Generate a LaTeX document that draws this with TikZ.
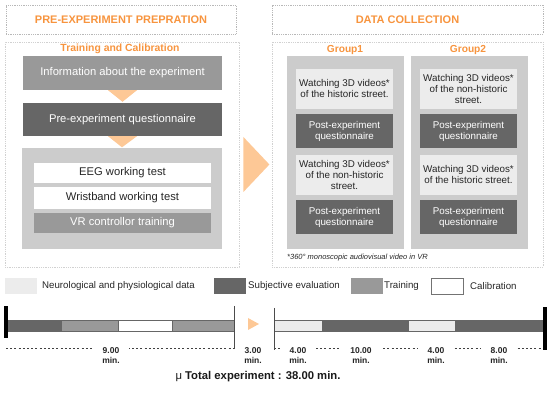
\documentclass[tikz,border=0pt]{standalone}
\usepackage{fontspec}
\setmainfont{Liberation Sans}
\usetikzlibrary{calc, positioning}
\definecolor{eorange}{RGB}{247,148,62}
\definecolor{epale}{RGB}{253,200,150}
\definecolor{edark}{RGB}{102,102,102}
\definecolor{emid}{RGB}{153,153,153}
\definecolor{elight}{RGB}{204,204,204}
\definecolor{epaper}{RGB}{236,236,236}

\tikzset{
  panel/.style={draw=black!28, densely dotted, line width=0.8pt, inner sep=0pt},
  heading/.style={text=eorange, font=\fontsize{11}{13}\selectfont\bfseries, inner sep=0pt},
  box/.style={inner sep=0pt, align=center, font=\fontsize{11.2}{13}\selectfont},
  darkbox/.style={box, fill=edark, text=white},
  midbox/.style={box, fill=emid, text=white},
  whitebox/.style={box, fill=white, text=black!85},
  groupbox/.style={box, font=\fontsize{9.8}{11}\selectfont, minimum width=97pt},
  swatch/.style={minimum width=32pt, minimum height=16pt, inner sep=0pt},
  legtext/.style={anchor=west, inner sep=0pt, text=black!85, font=\fontsize{9.7}{11}\selectfont},
  minlabel/.style={fill=white, inner xsep=9pt, inner ysep=1pt, align=center, font=\fontsize{8.5}{10}\selectfont\bfseries, text=black!85}
}

\begin{document}
\begin{tikzpicture}[x=1pt,y=-1pt]
\useasboundingbox (0,0) rectangle (550,395);

%Headers and panels:
\node[panel, minimum width=230pt, minimum height=29pt] (prephead) at (121,19.5) {};
\node[heading] at (prephead) {PRE-EXPERIMENT PREPRATION};
\node[panel, minimum width=271pt, minimum height=29pt] (datahead) at (407.5,19.5) {};
\node[heading] at (datahead) {DATA COLLECTION};
\node[panel, draw=black!18, minimum width=234pt, minimum height=225pt] (prep) at (122,154.5) {};
\node[panel, draw=black!18, minimum width=271pt, minimum height=225pt] (data) at (407.5,154.5) {};

%Pre-experiment side:
\node[heading, font=\fontsize{10.4}{12}\selectfont\bfseries] (train) at (120,48.5) {Training and Calibration};
\node[midbox, minimum width=199pt, minimum height=34pt] (info) at (122.5,73) {Information about the experiment};
\node[darkbox, minimum width=199pt, minimum height=33pt] (ques) at (122.5,119.5) {Pre-experiment questionnaire};
\node[box, fill=elight, minimum width=200pt, minimum height=101pt] (calib) at (122,198.5) {};
\node[whitebox, minimum width=177pt, minimum height=20pt] (eeg) at (122.5,173) {EEG working test};
\node[whitebox, minimum width=177pt, minimum height=22pt] (wrist) at (122.5,198) {Wristband working test};
\node[midbox, minimum width=177pt, minimum height=20pt] (vr) at (122.5,223) {VR controllor training};

\fill[epale] ($(info.south)+(-14.5,0)$) -- ($(info.south)+(14.5,0)$) -- ($(ques.north)+(0,-1)$) -- cycle;
\fill[epale] ($(ques.south)+(-14.5,0)$) -- ($(ques.south)+(14.5,0)$) -- ($(calib.north)+(0,-0.5)$) -- cycle;
\fill[epale] ($(prep.east)+(4,-17.5)$) -- ($(prep.east)+(4,37.5)$) -- ($(prep.east)+(30,10)$) -- cycle;

%Data collection side:
\node[heading, font=\fontsize{10.2}{12}\selectfont\bfseries] (g1) at (345,50) {Group1};
\node[heading, font=\fontsize{10.2}{12}\selectfont\bfseries] (g2) at (468,50) {Group2};
\node[box, fill=elight, minimum width=117pt, minimum height=193pt] (col1) at (345.5,152.5) {};
\node[box, fill=elight, minimum width=117pt, minimum height=193pt] (col2) at (469.5,152.5) {};

\node[groupbox, fill=epaper, text=black!85, minimum height=40pt] (w11) at (344.5,89) {Watching 3D videos*\\of the historic street.};
\node[groupbox, fill=edark, text=white, minimum height=34pt] (p11) at (344.5,131) {Post-experiment\\questionnaire};
\node[groupbox, fill=epaper, text=black!85, minimum height=40pt] (w12) at (344.5,175) {Watching 3D videos*\\of the non-historic\\street.};
\node[groupbox, fill=edark, text=white, minimum height=34pt] (p12) at (344.5,217) {Post-experiment\\questionnaire};

\node[groupbox, fill=epaper, text=black!85, minimum height=40pt] (w21) at (468.5,89) {Watching 3D videos*\\of the non-historic\\street.};
\node[groupbox, fill=edark, text=white, minimum height=34pt] (p21) at (468.5,131) {Post-experiment\\questionnaire};
\node[groupbox, fill=epaper, text=black!85, minimum height=40pt] (w22) at (468.5,175) {Watching 3D videos*\\of the historic street.};
\node[groupbox, fill=edark, text=white, minimum height=34pt] (p22) at (468.5,217) {Post-experiment\\questionnaire};

\node[anchor=west, inner sep=0pt, text=black!85, font=\fontsize{7.5}{9}\selectfont\itshape] (note) at (287,258) {*360° monoscopic audiovisual video in VR};

%Legend:
\node[swatch, fill=epaper] (sw1) at (21,286) {};
\node[legtext] at (42,286) {Neurological and physiological data};
\node[swatch, fill=edark] (sw2) at (230,286) {};
\node[legtext] at (248,286) {Subjective evaluation};
\node[swatch, fill=emid] (sw3) at (367,286) {};
\node[legtext] at (384,286) {Training};
\node[swatch, fill=white, draw=black!55, line width=0.6pt] (sw4) at (447,286) {};
\node[legtext] at (470,286) {Calibration};

%Timeline:
\draw[black!75, dash pattern=on 2pt off 2.2pt, line width=0.9pt] (6,348) -- (234,348);
\draw[black!75, dash pattern=on 2pt off 2.2pt, line width=0.9pt] (274,348) -- (543,348);
\foreach \a/\b/\c in {6/61/edark, 61/118/emid, 118/172/white, 172/234/emid, 274/322/epaper, 322/408/edark, 408/455/epaper, 455/543/edark}
  \filldraw[fill=\c, draw=black!60, line width=0.5pt] (\a,320) rectangle (\b,331);
\fill (4,306) rectangle (8,338);
\fill (543,307) rectangle (547,350);
\draw[black!70, line width=0.6pt] (234.5,306) -- (234.5,349);
\draw[black!70, line width=0.6pt] (274,308) -- (274,350);
\fill[epale] (248,318) -- (248,330) -- (259,324) -- cycle;

\node[minlabel] (t1) at (111,356) {9.00\\min.};
\node[minlabel, fill=none] (t2) at (253,356) {3.00\\min.};
\node[minlabel] (t3) at (298,356) {4.00\\min.};
\node[minlabel] (t4) at (361,356) {10.00\\min.};
\node[minlabel] (t5) at (436,356) {4.00\\min.};
\node[minlabel] (t6) at (499,356) {8.00\\min.};

\node[inner sep=0pt, text=black!90, font=\fontsize{11.3}{13}\selectfont] (total) at (258,377) {μ \textbf{Total experiment : 38.00 min.}};

\end{tikzpicture}
\end{document}
